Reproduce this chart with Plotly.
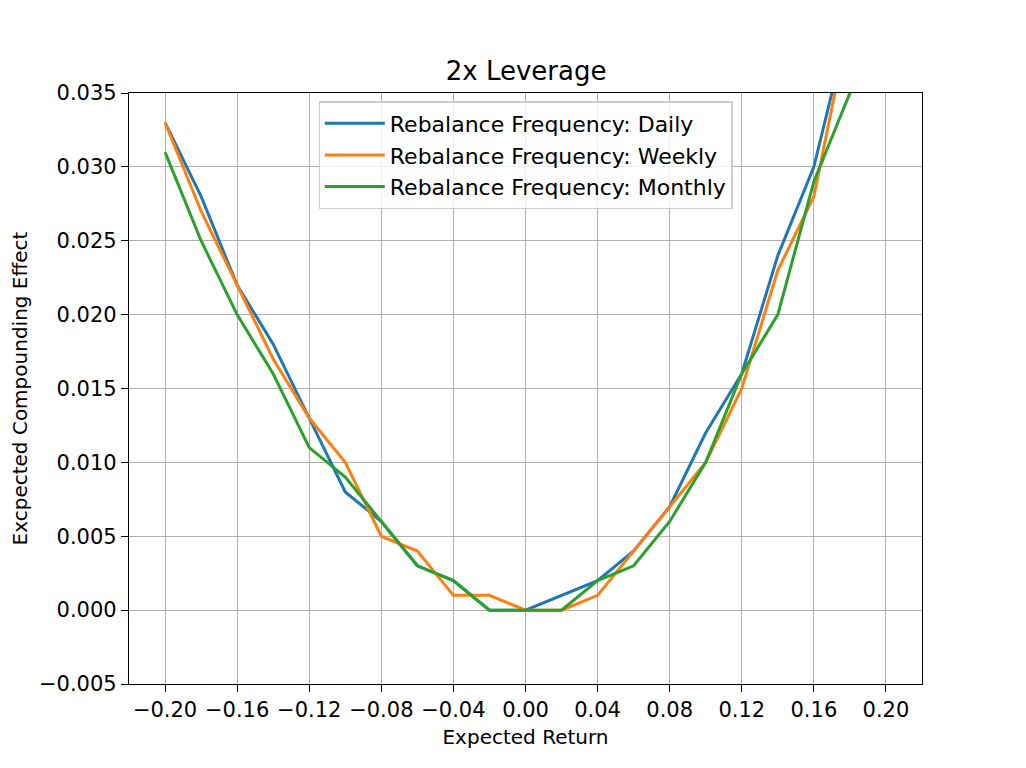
import plotly.graph_objects as go

# expected return grid (x) and compounding effect per rebalance frequency
expected_return = [-0.20, -0.18, -0.16, -0.14, -0.12, -0.10, -0.08, -0.06, -0.04, -0.02,
                   0.00, 0.02, 0.04, 0.06, 0.08, 0.10, 0.12, 0.14, 0.16, 0.18, 0.20]
daily = [0.033, 0.028, 0.022, 0.018, 0.013, 0.008, 0.006, 0.003, 0.002, 0.000,
         0.000, 0.001, 0.002, 0.004, 0.007, 0.012, 0.016, 0.024, 0.030, 0.040, 0.050]
weekly = [0.033, 0.027, 0.022, 0.017, 0.013, 0.010, 0.005, 0.004, 0.001, 0.001,
          0.000, 0.000, 0.001, 0.004, 0.007, 0.010, 0.015, 0.023, 0.028, 0.040, 0.050]
monthly = [0.031, 0.025, 0.020, 0.016, 0.011, 0.009, 0.006, 0.003, 0.002, 0.000,
           0.000, 0.000, 0.002, 0.003, 0.006, 0.010, 0.016, 0.020, 0.029, 0.035, 0.045]

series_names = ["Rebalance Frequency: Daily", "Rebalance Frequency: Weekly",
                "Rebalance Frequency: Monthly"]
series_colors = ["#1f77b4", "#ff7f0e", "#2ca02c"]

x_tickvals = [-0.20, -0.16, -0.12, -0.08, -0.04, 0.00, 0.04, 0.08, 0.12, 0.16, 0.20]
x_ticktext = ["−0.20", "−0.16", "−0.12", "−0.08", "−0.04", "0.00",
              "0.04", "0.08", "0.12", "0.16", "0.20"]
y_tickvals = [-0.005, 0.000, 0.005, 0.010, 0.015, 0.020, 0.025, 0.030, 0.035]
y_ticktext = ["−0.005", "0.000", "0.005", "0.010", "0.015", "0.020",
              "0.025", "0.030", "0.035"]

fig = go.Figure()
for name, values, color in zip(series_names, [daily, weekly, monthly], series_colors):
    fig.add_trace(go.Scatter(
        x=expected_return,
        y=values,
        mode="lines",
        name=name,
        line=dict(color=color, width=3),
    ))

axis_common = dict(
    showgrid=True,
    gridcolor="#b0b0b0",
    gridwidth=1.3,
    showline=True,
    linecolor="black",
    linewidth=1.3,
    mirror=True,
    ticks="outside",
    ticklen=7,
    tickwidth=1.3,
    tickcolor="black",
    zeroline=False,
    tickfont=dict(size=21, color="black"),
)

# page adds ~8px offset, so margins are trimmed on the left/top
fig.update_layout(
    width=1026,
    height=768,
    font=dict(family="DejaVu Sans", color="black"),
    paper_bgcolor="white",
    plot_bgcolor="white",
    margin=dict(l=121, r=112, t=85, b=92),
    title=dict(text="2x Leverage", x=0.505, xanchor="center", y=0.918,
               yanchor="middle", font=dict(size=26)),
    xaxis=dict(axis_common, range=[-0.22, 0.22], tickvals=x_tickvals,
               ticktext=x_ticktext,
               title=dict(text="Expected Return", font=dict(size=20), standoff=8)),
    yaxis=dict(axis_common, range=[-0.005, 0.035], tickvals=y_tickvals,
               ticktext=y_ticktext,
               title=dict(text="Excpected Compounding Effect", font=dict(size=20),
                          standoff=5)),
    legend=dict(
        x=0.5, xanchor="center", y=0.986, yanchor="top",
        bgcolor="rgba(255,255,255,0.8)",
        bordercolor="#cccccc",
        borderwidth=1.3,
        font=dict(size=22),
        itemwidth=60,
        tracegroupgap=0,
    ),
    showlegend=True,
)

fig.write_html("out.html")
